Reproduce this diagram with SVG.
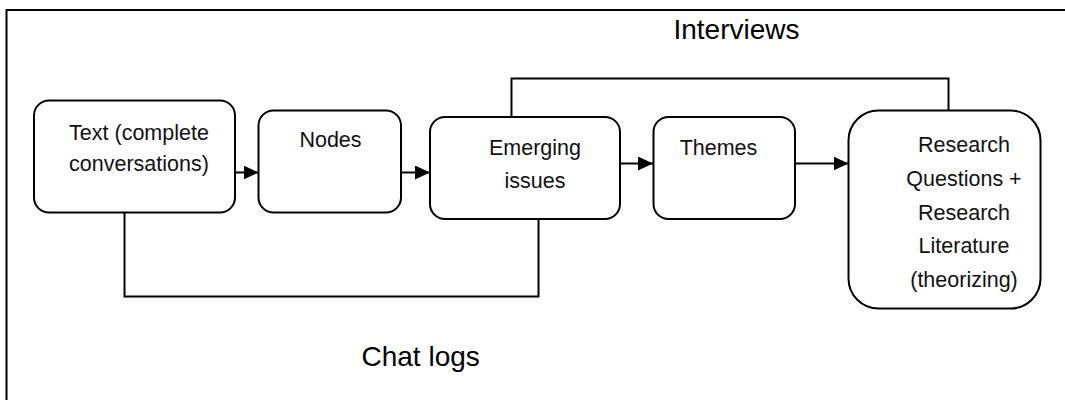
<svg xmlns="http://www.w3.org/2000/svg" width="1065" height="400" viewBox="0 0 1065 400">
<style>
.box{fill:#fff;stroke:#000;stroke-width:2}
.t{font-family:"Liberation Sans",Arial,sans-serif;font-size:21.5px;fill:#111;text-anchor:middle}
.lbl{font-family:"Liberation Sans",Arial,sans-serif;font-size:28px;fill:#000}
.con{fill:none;stroke:#000;stroke-width:2}
</style>
<defs>
<marker id="ah" markerWidth="15" markerHeight="14" refX="15" refY="7" orient="auto" markerUnits="userSpaceOnUse">
<path d="M0,0 L15,7 L0,14 Z" fill="#000"/>
</marker>
</defs>
<rect x="0" y="0" width="1065" height="400" fill="#fff"/>
<rect x="6.5" y="10" width="1100" height="420" fill="none" stroke="#000" stroke-width="2"/>
<g id="connectors">
<line class="con" x1="235" y1="172.5" x2="258.5" y2="172.5" marker-end="url(#ah)"/>
<line class="con" x1="401" y1="172.5" x2="430" y2="172.5" marker-end="url(#ah)"/>
<line class="con" x1="620" y1="163.5" x2="653" y2="163.5" marker-end="url(#ah)"/>
<line class="con" x1="795" y1="163.5" x2="848.5" y2="163.5" marker-end="url(#ah)"/>
<polyline class="con" points="511.5,117 511.5,78.5 948.5,78.5 948.5,110.5"/>
<polyline class="con" points="124.5,213 124.5,296.5 538.5,296.5 538.5,219"/>
</g>
<g id="n1">
<rect class="box" x="34" y="100.5" width="201" height="112" rx="15"/>
<text class="t" x="139" y="140">Text (complete</text>
<text class="t" x="139" y="171">conversations)</text>
</g>
<g id="n2">
<rect class="box" x="258.5" y="110.5" width="142.5" height="102" rx="15"/>
<text class="t" x="330.5" y="146.5">Nodes</text>
</g>
<g id="n3">
<rect class="box" x="430" y="117" width="190" height="102" rx="15"/>
<text class="t" x="535" y="155">Emerging</text>
<text class="t" x="535" y="187.5">issues</text>
</g>
<g id="n4">
<rect class="box" x="653.5" y="117" width="141.5" height="102" rx="15"/>
<text class="t" x="718.5" y="155">Themes</text>
</g>
<g id="n5">
<rect class="box" x="848.5" y="110.5" width="192" height="198" rx="30"/>
<text class="t" x="964" y="151.5">Research</text>
<text class="t" x="964" y="185.5">Questions +</text>
<text class="t" x="964" y="219.5">Research</text>
<text class="t" x="964" y="253">Literature</text>
<text class="t" x="964" y="286.5">(theorizing)</text>
</g>
<g id="labels">
<text class="lbl" x="736.5" y="39" text-anchor="middle">Interviews</text>
<text class="lbl" x="361.5" y="365.5">Chat logs</text>
</g>
</svg>
